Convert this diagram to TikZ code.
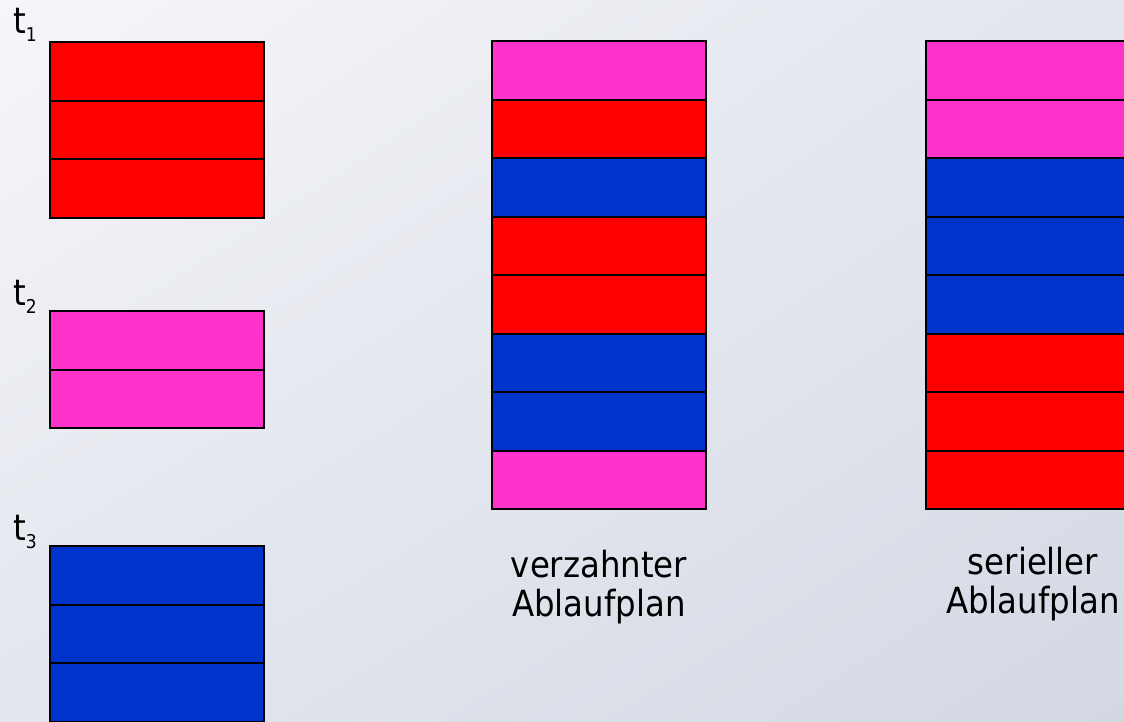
\documentclass[tikz,border=0pt]{standalone}
\usepackage{fontspec}
\usetikzlibrary{shadings}
\setmainfont{DejaVu Sans Condensed}
\definecolor{cred}{HTML}{FF0000}
\definecolor{cpink}{HTML}{FF33CC}
\definecolor{cblue}{HTML}{0033CC}
\definecolor{bgA}{HTML}{F5F6F9}
\definecolor{bgB}{HTML}{E3E6EE}
\definecolor{bgC}{HTML}{D3D8E3}
\begin{document}
\begin{tikzpicture}[x=1pt,y=-1pt,
  cell/.style={draw=black, line width=2pt, minimum width=214pt, minimum height=#1, inner sep=0pt, outer sep=0pt},
  cell/.default=58.5pt,
  lbl/.style={font=\fontsize{36}{39}\selectfont, align=center, inner sep=0pt, anchor=north},
  tlbl/.style={font=\fontsize{36}{39}\selectfont, inner sep=0pt, anchor=base west}]
\useasboundingbox (0,0) rectangle (1124,721);
\shade[upper left=bgA, upper right=bgB, lower left=bgB, lower right=bgC] (0,0) rectangle (1124,721);
% left column
\foreach \c [count=\i] in {cred,cred,cred}
  \node[cell=58.67pt, fill=\c] (a\i) at (157,{42+58.67*(\i-0.5)}) {};
\foreach \c [count=\i] in {cpink,cpink}
  \node[cell=58.5pt, fill=\c] (b\i) at (157,{311+58.5*(\i-0.5)}) {};
\foreach \c [count=\i] in {cblue,cblue,cblue}
  \node[cell=58.67pt, fill=\c] (c\i) at (157,{546+58.67*(\i-0.5)}) {};
% middle column
\foreach \c [count=\i] in {cpink,cred,cblue,cred,cred,cblue,cblue,cpink}
  \node[cell, fill=\c] (m\i) at (599,{41+58.5*(\i-0.5)}) {};
% right column
\foreach \c [count=\i] in {cpink,cpink,cblue,cblue,cblue,cred,cred,cred}
  \node[cell, fill=\c] (s\i) at (1033,{41+58.5*(\i-0.5)}) {};
% labels
\node[tlbl] (t1) at (13,33) {t\raisebox{-8pt}{\fontsize{19}{19}\selectfont 1}};
\node[tlbl] (t2) at (13,305) {t\raisebox{-8pt}{\fontsize{19}{19}\selectfont 2}};
\node[tlbl] (t3) at (13,540) {t\raisebox{-8pt}{\fontsize{19}{19}\selectfont 3}};
\node[lbl] (lm) at (599,550) {verzahnter\\Ablaufplan};
\node[lbl] (ls) at (1033,547) {serieller\\Ablaufplan};
\end{tikzpicture}
\end{document}
